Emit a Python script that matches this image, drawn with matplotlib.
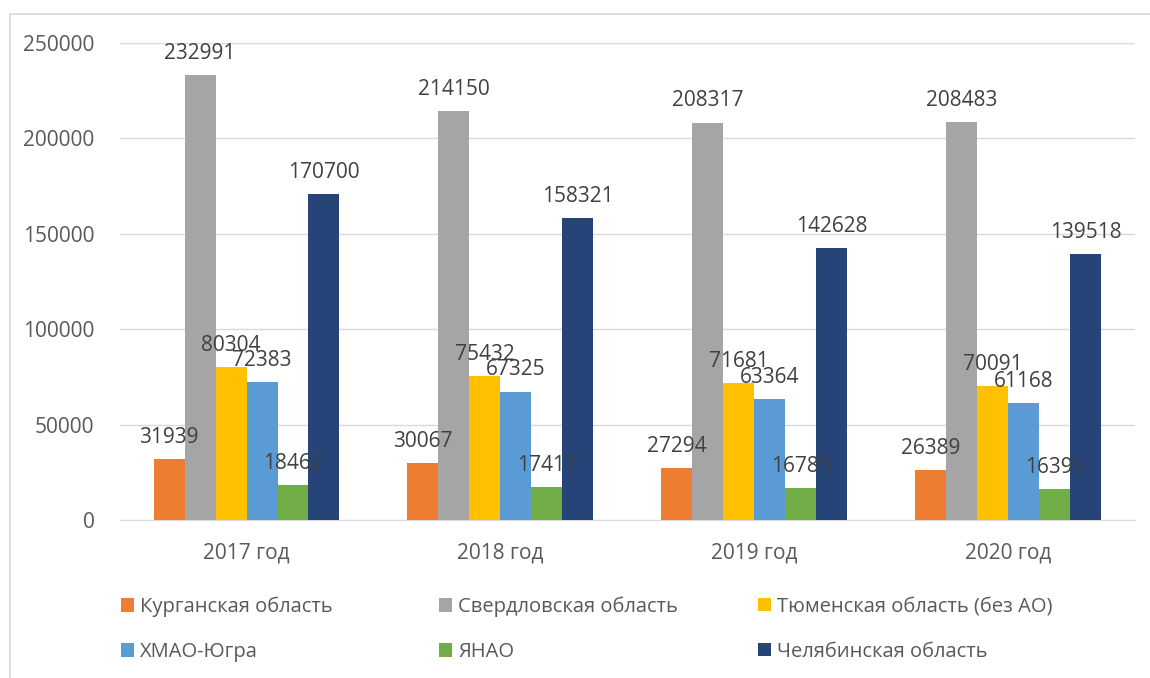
import matplotlib.pyplot as plt
import numpy as np
from matplotlib.patches import Rectangle

plt.rcParams['font.family'] = ['Open Sans', 'DejaVu Sans']

years = ['2017 год', '2018 год', '2019 год', '2020 год']
regions = ['Курганская область', 'Свердловская область', 'Тюменская область (без АО)',
           'ХМАО-Югра', 'ЯНАО', 'Челябинская область']
kurgan = [31939, 30067, 27294, 26389]
sverdl = [232991, 214150, 208317, 208483]
tyumen = [80304, 75432, 71681, 70091]
hmao = [72383, 67325, 63364, 61168]
yanao = [18462, 17417, 16785, 16395]
chelyab = [170700, 158321, 142628, 139518]
series = [kurgan, sverdl, tyumen, hmao, yanao, chelyab]
colors = ['#ED7D31', '#A5A5A5', '#FFC000', '#5B9BD5', '#70AD47', '#264478']

fig = plt.figure(figsize=(11.5, 6.78), dpi=100)
ax = fig.add_axes([0.104, 0.233, 0.883, 0.7036])

x = np.arange(len(years))
w = 0.122
bars = []
for i, (vals, c) in enumerate(zip(series, colors)):
    b = ax.bar(x + (i - 2.5) * w, vals, w, color=c, zorder=3)
    bars.append(b)
    # labels overlap neighbours in the original too
    for xi, v in zip(x + (i - 2.5) * w, vals):
        ax.annotate(str(v), (xi, v), xytext=(0, 8), textcoords='offset points',
                    ha='center', va='bottom', fontsize=15, color='#404040', zorder=4)

ax.set_xlim(-0.5, 3.5)
ax.set_ylim(0, 250000)
ax.set_yticks(range(0, 250001, 50000))
ax.set_xticks(x)
ax.set_xticklabels(years)
ax.yaxis.grid(True, color='#d9d9d9', linewidth=1, zorder=0)
for s in ['top', 'right', 'left']:
    ax.spines[s].set_visible(False)
ax.spines['bottom'].set_color('#d9d9d9')
ax.tick_params(axis='both', length=0, labelsize=15, labelcolor='#595959')
ax.tick_params(axis='y', pad=18)
ax.tick_params(axis='x', pad=16)

# legend: three columns of two entries, equal spacing
col_x = [0.105, 0.382, 0.659]
for j in range(3):
    handles = [bars[j], bars[j + 3]]
    labels = [regions[j], regions[j + 3]]
    fig.legend(handles, labels, loc='upper left', bbox_to_anchor=(col_x[j], 0.12),
               frameon=False, fontsize=14.5, handlelength=0.65, handleheight=0.65,
               handletextpad=0.3, labelspacing=1.25, labelcolor='#595959',
               borderaxespad=0, borderpad=0)

fig.patches.append(Rectangle((0.009, -0.05), 1.2, 1.03, transform=fig.transFigure,
                             fill=False, edgecolor='#d9d9d9', linewidth=1.2))

fig.savefig('out.png', dpi=100)
